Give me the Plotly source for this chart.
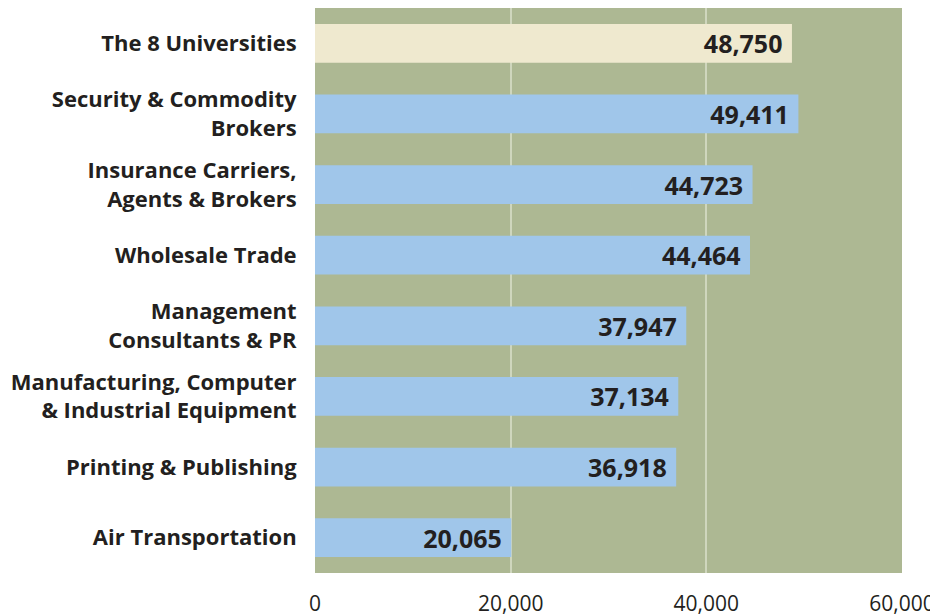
import plotly.graph_objects as go

# categories top to bottom as shown
categories = [
    "The 8 Universities",
    "Security & Commodity<br>Brokers",
    "Insurance Carriers,<br>Agents & Brokers",
    "Wholesale Trade",
    "Management<br>Consultants & PR",
    "Manufacturing, Computer<br>& Industrial Equipment",
    "Printing & Publishing",
    "Air Transportation",
]
values = [48750, 49411, 44723, 44464, 37947, 37134, 36918, 20065]
value_labels = ["48,750", "49,411", "44,723", "44,464", "37,947", "37,134", "36,918", "20,065"]
tick_vals = [0, 20000, 40000, 60000]
tick_text = ["0", "20,000", "40,000", "60,000"]

bar_colors = ["#efe9cf"] + ["#a0c6ea"] * (len(values) - 1)

fig = go.Figure()
fig.add_trace(go.Bar(
    y=categories,
    x=values,
    orientation="h",
    marker=dict(color=bar_colors, line=dict(width=0)),
    width=0.55,
    text=[t + " " for t in value_labels],
    textposition="inside",
    insidetextanchor="end",
    textfont=dict(family="Open Sans", size=25, color="#231f20", weight=700),
    constraintext="none",
    hoverinfo="skip",
))

# page has an 8px body margin, so margins are shifted to compensate
fig.update_layout(
    width=938,
    height=608,
    margin=dict(l=307, r=44, t=0, b=43),
    paper_bgcolor="white",
    plot_bgcolor="#adb893",
    showlegend=False,
)
fig.update_xaxes(
    range=[0, 60000],
    tickvals=tick_vals,
    ticktext=tick_text,
    showgrid=True,
    gridcolor="#cfd6bd",
    gridwidth=2,
    zeroline=False,
    ticks="outside",
    ticklen=12,
    tickcolor="rgba(0,0,0,0)",
    tickfont=dict(family="Open Sans", size=21, color="#231f20"),
    fixedrange=True,
)
fig.update_yaxes(
    autorange="reversed",
    categoryorder="array",
    categoryarray=categories,
    showgrid=False,
    ticks="outside",
    ticklen=13,
    tickcolor="rgba(0,0,0,0)",
    tickfont=dict(family="Open Sans", size=22, color="#231f20", weight=700),
    fixedrange=True,
)

fig.write_html("out.html")
